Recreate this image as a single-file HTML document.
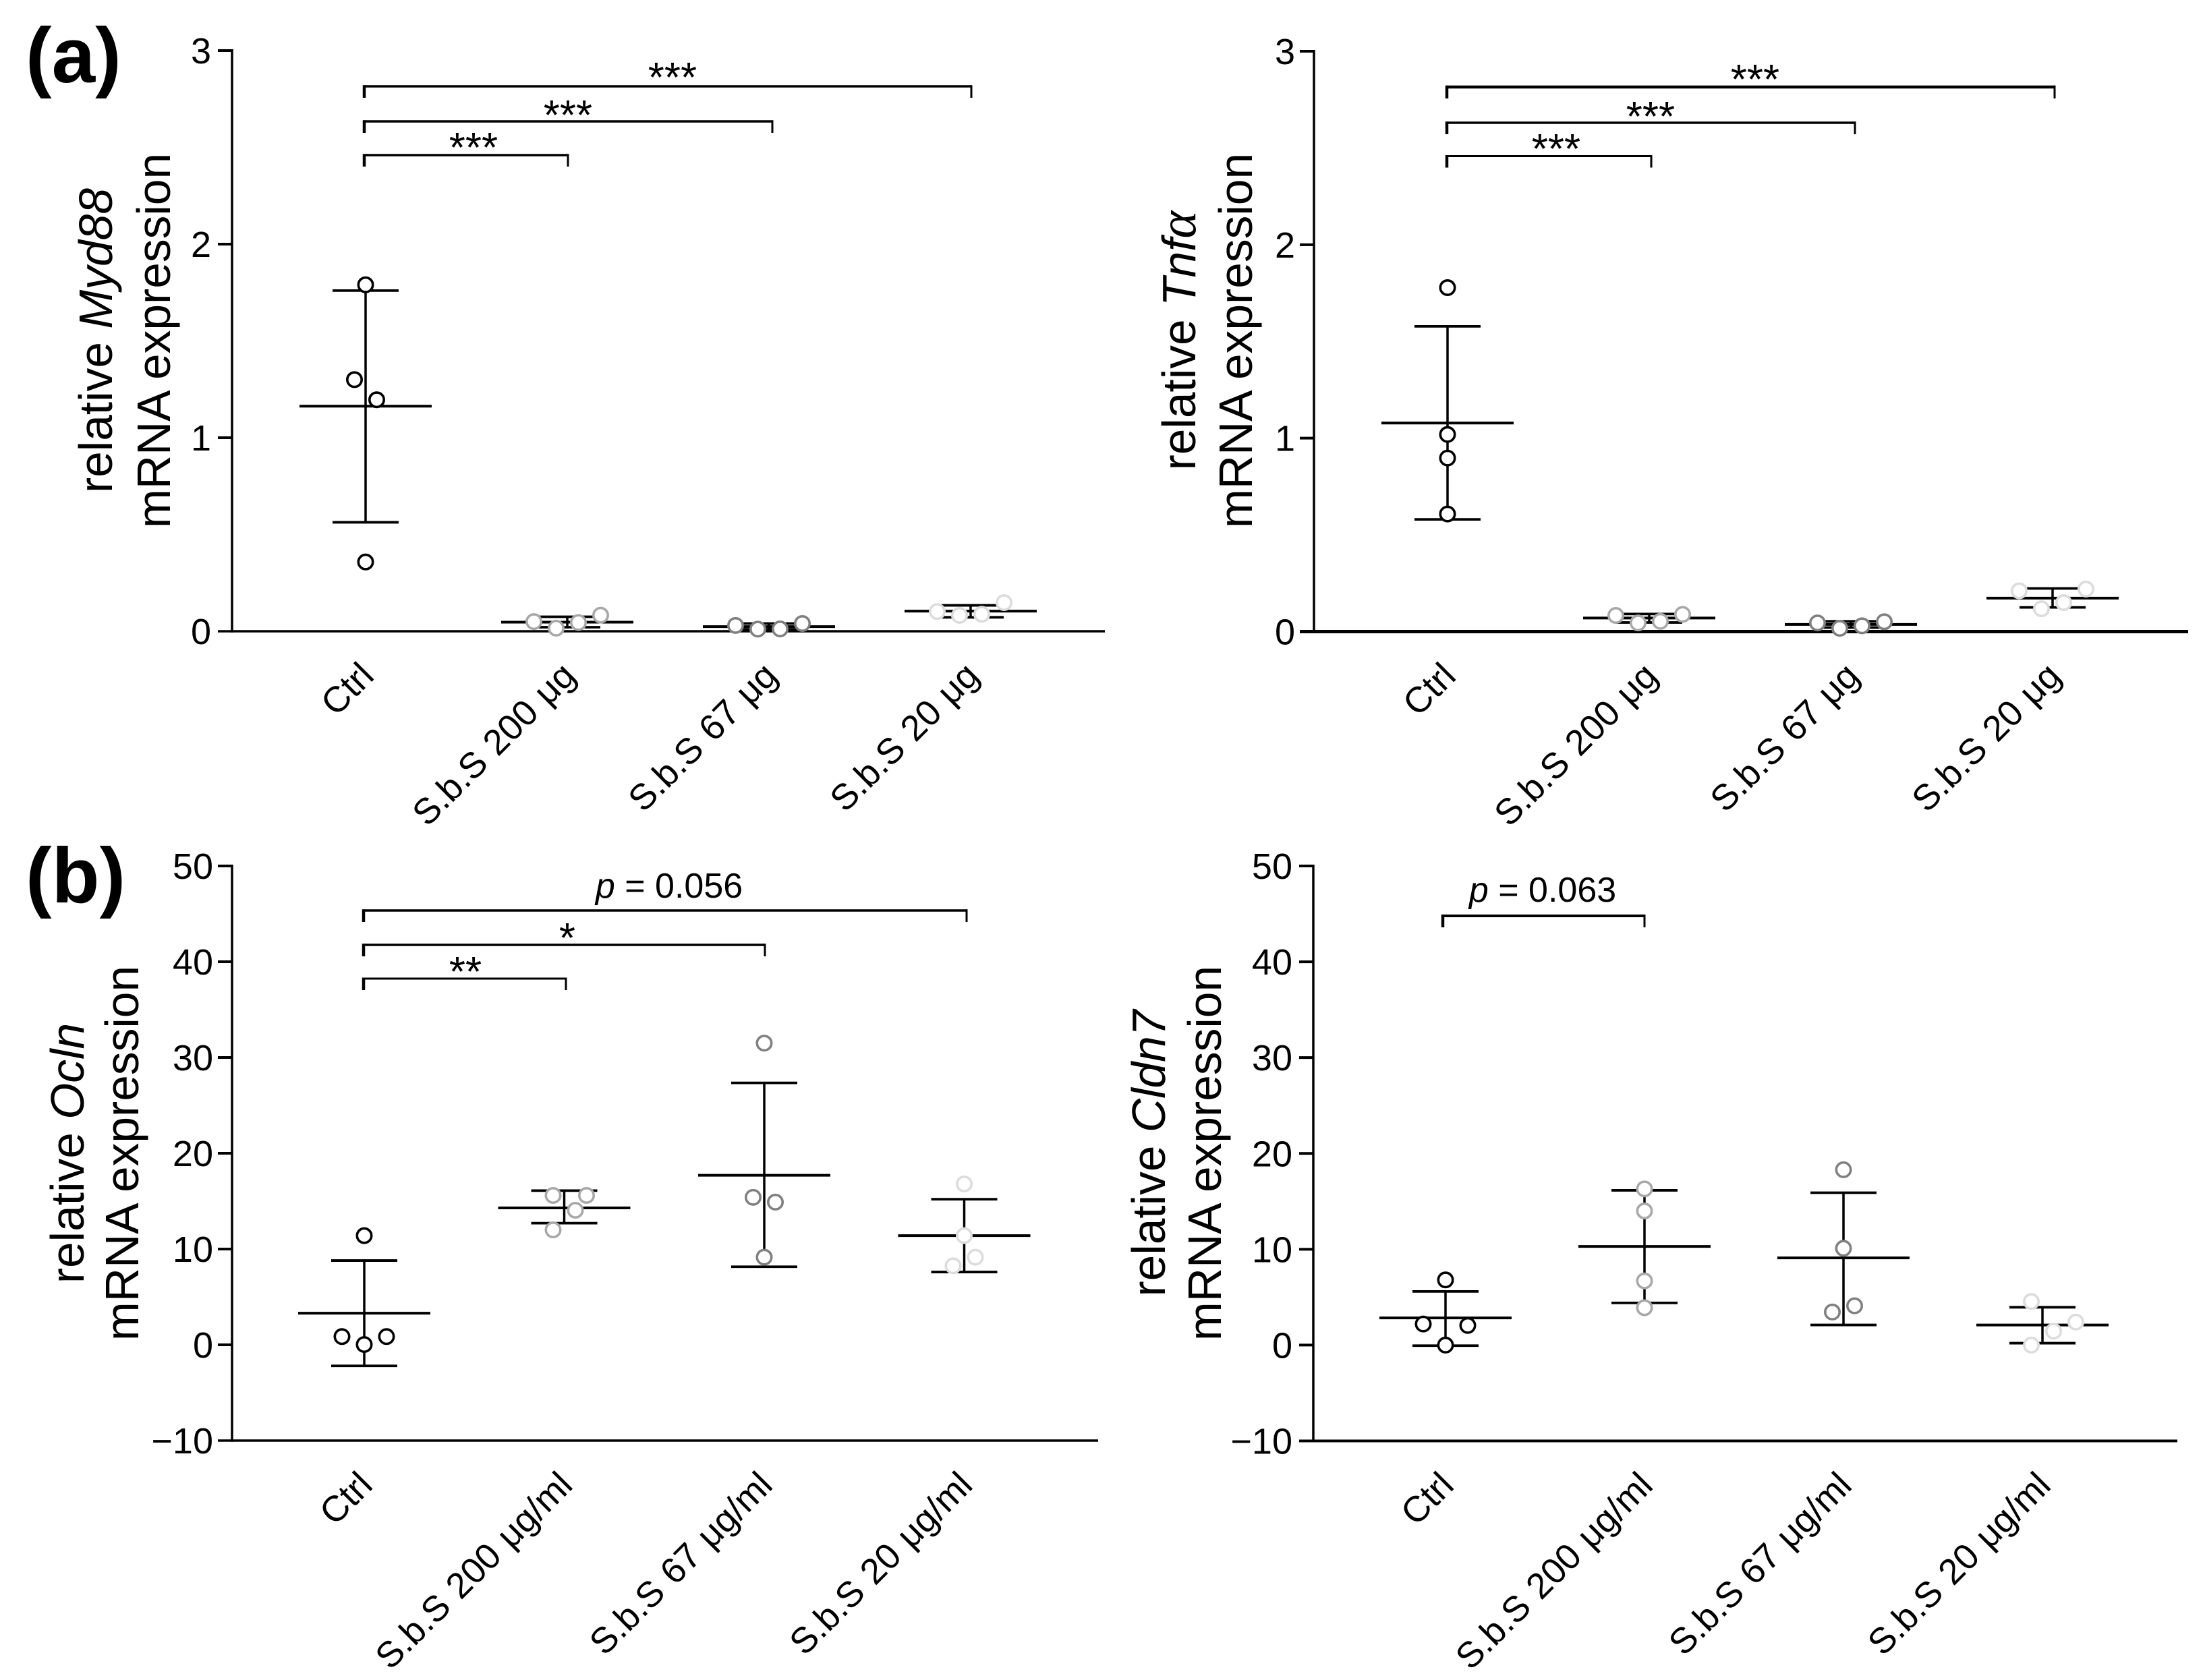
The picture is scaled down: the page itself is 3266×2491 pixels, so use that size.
<!DOCTYPE html>
<html lang="en">
<head>
<meta charset="utf-8">
<title>Relative mRNA expression</title>
<style>
html,body{margin:0;padding:0;background:#fff;}
svg{display:block;}
text{font-family:"Liberation Sans",Arial,sans-serif;fill:#000;}
</style>
</head>
<body>
<svg id="figure" xmlns="http://www.w3.org/2000/svg" width="3266" height="2491" viewBox="0 0 3266 2491">
  <rect width="3266" height="2491" fill="#fff"/>
  <text x="38" y="122" font-size="116" font-weight="bold">(a)</text>
  <text x="38" y="1338" font-size="116" font-weight="bold">(b)</text>

  <text transform="translate(166,505) rotate(-90)" text-anchor="middle" font-size="69.5">relative <tspan font-style="italic">Myd88</tspan></text>
  <text transform="translate(252,505) rotate(-90)" text-anchor="middle" font-size="69.5">mRNA expression</text>

  <text transform="translate(1772,505) rotate(-90)" text-anchor="middle" font-size="69.5">relative <tspan font-style="italic">Tnf</tspan><tspan font-style="italic" font-family="Liberation Serif" font-size="78">α</tspan></text>
  <text transform="translate(1856,505) rotate(-90)" text-anchor="middle" font-size="69.5">mRNA expression</text>

  <text transform="translate(124,1710) rotate(-90)" text-anchor="middle" font-size="69.5">relative <tspan font-style="italic">Ocln</tspan></text>
  <text transform="translate(205,1710) rotate(-90)" text-anchor="middle" font-size="69.5">mRNA expression</text>

  <text transform="translate(1727,1710) rotate(-90)" text-anchor="middle" font-size="69.5">relative <tspan font-style="italic">Cldn7</tspan></text>
  <text transform="translate(1810,1710) rotate(-90)" text-anchor="middle" font-size="69.5">mRNA expression</text>
</svg>
<script>
/* ---------- shared categories and tick labels ---------- */
const categoriesTop = ["Ctrl", "S.b.S 200 μg", "S.b.S 67 μg", "S.b.S 20 μg"];
const categoriesBottom = ["Ctrl", "S.b.S 200 μg/ml", "S.b.S 67 μg/ml", "S.b.S 20 μg/ml"];
const ticksTop = [0, 1, 2, 3];
const ticksBottom = [-10, 0, 10, 20, 30, 40, 50];
const groupColors = ["#000000", "#a8a8a8", "#808080", "#dcdcdc"];

/* ---------- Myd88 ---------- */
const myd88Means = [1.163, 0.047, 0.024, 0.104];
const myd88Upper = [1.76, 0.075, 0.04, 0.134];
const myd88Lower = [0.563, 0.021, 0.01, 0.072];
const myd88Points = [
  [1.79, 1.30, 1.196, 0.358],
  [0.05, 0.016, 0.045, 0.083],
  [0.03, 0.011, 0.012, 0.04],
  [0.102, 0.082, 0.088, 0.148]
];
const myd88Slots = [
  [0, -1, 1, 0],
  [-3, -1, 1, 3],
  [-3, -1, 1, 3],
  [-3, -1, 1, 3]
];

/* ---------- Tnfα ---------- */
const tnfaMeans = [1.078, 0.07, 0.037, 0.173];
const tnfaUpper = [1.578, 0.091, 0.053, 0.223];
const tnfaLower = [0.58, 0.047, 0.021, 0.125];
const tnfaPoints = [
  [1.778, 1.019, 0.897, 0.608],
  [0.0835, 0.045, 0.053, 0.089],
  [0.045, 0.017, 0.03, 0.051],
  [0.211, 0.118, 0.15, 0.22]
];
const tnfaSlots = [
  [0, 0, 0, 0],
  [-3, -1, 1, 3],
  [-3, -1, 1, 3],
  [-3, -1, 1, 3]
];

/* ---------- Ocln ---------- */
const oclnMeans = [3.3, 14.3, 17.7, 11.4];
const oclnUpper = [8.8, 16.1, 27.35, 15.2];
const oclnLower = [-2.2, 12.7, 8.15, 7.6];
const oclnPoints = [
  [11.4, 0.86, 0.03, 0.86],
  [15.6, 12.0, 14.05, 15.6],
  [31.5, 15.4, 14.9, 9.15],
  [16.8, 11.4, 9.15, 8.25]
];
const oclnSlots = [
  [0, -2, 0, 2],
  [-1, -1, 1, 2],
  [0, -1, 1, 0],
  [0, 0, 1, -1]
];

/* ---------- Cldn7 ---------- */
const cldn7Means = [2.84, 10.3, 9.1, 2.1];
const cldn7Upper = [5.6, 16.15, 15.9, 3.95];
const cldn7Lower = [-0.06, 4.4, 2.1, 0.2];
const cldn7Points = [
  [6.8, 2.2, 2.05, 0],
  [16.3, 14.0, 6.7, 3.9],
  [18.3, 10.1, 4.1, 3.45],
  [4.55, 2.4, 1.45, 0]
];
const cldn7Slots = [
  [0, -2, 2, 0],
  [0, 0, 0, 0],
  [0, 0, 1, -1],
  [-1, 3, 1, -1]
];

const SVG_NS = "http://www.w3.org/2000/svg";
const root = document.getElementById("figure");

function line(parent, x1, y1, x2, y2, w, name) {
  const el = document.createElementNS(SVG_NS, "line");
  el.setAttribute("x1", x1);
  el.setAttribute("y1", y1);
  el.setAttribute("x2", x2);
  el.setAttribute("y2", y2);
  el.setAttribute("stroke", "#000");
  el.setAttribute("stroke-width", w);
  
  
  parent.appendChild(el);
  return el;
}

function label(parent, x, y, str, size, anchor, name, transform) {
  const el = document.createElementNS(SVG_NS, "text");
  if (transform) {
    el.setAttribute("transform", transform);
  } else {
    el.setAttribute("x", x);
    el.setAttribute("y", y);
  }
  el.setAttribute("font-size", size);
  el.setAttribute("text-anchor", anchor);
  el.textContent = str;
  
  
  parent.appendChild(el);
  return el;
}

function drawPanel(cfg) {
  const g = document.createElementNS(SVG_NS, "g");
  
  
  root.appendChild(g);

  const yMin = cfg.ticks[0];
  const yMax = cfg.ticks[cfg.ticks.length - 1];
  const yScale = v => cfg.yBottom + (v - yMin) / (yMax - yMin) * (cfg.yTop - cfg.yBottom);
  const xScale = i => cfg.x0 + i * cfg.step;

  /* axes */
  line(g, cfg.axisX, cfg.yTop - 2, cfg.axisX, cfg.yBottom + cfg.axisW / 2, cfg.spineW, cfg.key + "-y-axis");
  line(g, cfg.axisX - 21, cfg.yBottom, cfg.axisEnd, cfg.yBottom, cfg.axisW, cfg.key + "-x-axis");
  cfg.ticks.forEach(t => {
    const y = yScale(t);
    if (t !== yMin) {
      line(g, cfg.axisX - 21, y, cfg.axisX, y, 4, cfg.key + "-y-tick");
    }
    const txt = String(t).replace("-", "\u2212");
    label(g, cfg.tickRight, y + 19, txt, 54, "end", cfg.key + "-y-tick-label");
  });

  /* category labels */
  cfg.categories.forEach((c, i) => {
    const lx = xScale(i) + 15;
    const ly = cfg.yBottom + 69;
    const t = label(g, 0, 0, c, 53.5, "end", cfg.key + "-x-label", "translate(" + lx + "," + ly + ") rotate(-45)");
    t.setAttribute("word-spacing", "2");
  });

  /* error bars and means */
  cfg.means.forEach((m, i) => {
    const cx = xScale(i);
    line(g, cx, yScale(cfg.upper[i]), cx, yScale(cfg.lower[i]), 3.5, cfg.key + "-error-bar");
    line(g, cx - 49, yScale(cfg.upper[i]), cx + 49, yScale(cfg.upper[i]), 3.8, cfg.key + "-error-cap-upper");
    line(g, cx - 49, yScale(cfg.lower[i]), cx + 49, yScale(cfg.lower[i]), 3.8, cfg.key + "-error-cap-lower");
    line(g, cx - 98, yScale(m), cx + 98, yScale(m), 4, cfg.key + "-mean-line");
  });

  /* individual points */
  cfg.points.forEach((vals, i) => {
    vals.forEach((v, j) => {
      const c = document.createElementNS(SVG_NS, "circle");
      c.setAttribute("cx", xScale(i) + cfg.slots[i][j] * cfg.slotWidth);
      c.setAttribute("cy", yScale(v));
      c.setAttribute("r", 10.7);
      c.setAttribute("fill", "#fff");
      c.setAttribute("stroke", groupColors[i]);
      c.setAttribute("stroke-width", 3.6);
      
      
      g.appendChild(c);
    });
  });

  /* significance brackets */
  cfg.brackets.forEach(b => {
    line(g, b.x1, b.y, b.x2, b.y, b.w, cfg.key + "-bracket");
    line(g, b.x1, b.y - b.w / 2, b.x1, b.y + 17, 4.5, cfg.key + "-bracket-left");
    line(g, b.x2, b.y - b.w / 2, b.x2, b.y + 17, 3, cfg.key + "-bracket-right");
    if (b.stars) {
      label(g, b.tx, b.ty, b.stars, 62, "middle", cfg.key + "-significance-stars");
    } else {
      const t = label(g, b.tx, b.ty, "", 52, "middle", cfg.key + "-p-value");
      const it = document.createElementNS(SVG_NS, "tspan");
      it.setAttribute("font-style", "italic");
      it.textContent = "p";
      t.appendChild(it);
      t.appendChild(document.createTextNode(" = " + b.p));
    }
  });
}

drawPanel({
  key: "myd88", categories: categoriesTop, ticks: ticksTop,
  means: myd88Means, upper: myd88Upper, lower: myd88Lower, points: myd88Points, slots: myd88Slots,
  axisX: 344, axisEnd: 1638, axisW: 3.5, spineW: 3.5, yTop: 75, yBottom: 936, x0: 542, step: 299, slotWidth: 16.5, tickRight: 313,
  brackets: [
    {x1: 540, x2: 1440, y: 128, w: 3.5, stars: "***", tx: 997, ty: 136},
    {x1: 540, x2: 1145, y: 180, w: 3.5, stars: "***", tx: 842, ty: 192},
    {x1: 540, x2: 842, y: 230, w: 3.5, stars: "***", tx: 702, ty: 240}
  ]
});

drawPanel({
  key: "tnfa", categories: categoriesTop, ticks: ticksTop,
  means: tnfaMeans, upper: tnfaUpper, lower: tnfaLower, points: tnfaPoints, slots: tnfaSlots,
  axisX: 1948, axisEnd: 3244, axisW: 5, spineW: 3.5, yTop: 76, yBottom: 936.5, x0: 2146, step: 299, slotWidth: 16.5, tickRight: 1920,
  brackets: [
    {x1: 2145, x2: 3046, y: 129, w: 4.5, stars: "***", tx: 2602, ty: 139},
    {x1: 2145, x2: 2750, y: 182, w: 3.5, stars: "***", tx: 2447, ty: 194},
    {x1: 2145, x2: 2448, y: 231.5, w: 3, stars: "***", tx: 2307, ty: 242}
  ]
});

drawPanel({
  key: "ocln", categories: categoriesBottom, ticks: ticksBottom,
  means: oclnMeans, upper: oclnUpper, lower: oclnLower, points: oclnPoints, slots: oclnSlots,
  axisX: 344, axisEnd: 1628, axisW: 3.5, spineW: 3.5, yTop: 1284, yBottom: 2136, x0: 540, step: 296.5, slotWidth: 16.5, tickRight: 316,
  brackets: [
    {x1: 539, x2: 1433, y: 1350, w: 3.5, p: "0.056", tx: 992, ty: 1331},
    {x1: 539, x2: 1134, y: 1401, w: 3.5, stars: "*", tx: 841, ty: 1412},
    {x1: 539, x2: 839, y: 1451, w: 3, stars: "**", tx: 690, ty: 1462}
  ]
});

drawPanel({
  key: "cldn7", categories: categoriesBottom, ticks: ticksBottom,
  means: cldn7Means, upper: cldn7Upper, lower: cldn7Lower, points: cldn7Points, slots: cldn7Slots,
  axisX: 1947, axisEnd: 3228, axisW: 4, spineW: 3.5, yTop: 1284, yBottom: 2136.5, x0: 2143, step: 295, slotWidth: 16.5, tickRight: 1916,
  brackets: [
    {x1: 2139, x2: 2438, y: 1358, w: 4, p: "0.063", tx: 2287, ty: 1337}
  ]
});
</script>
</body>
</html>
